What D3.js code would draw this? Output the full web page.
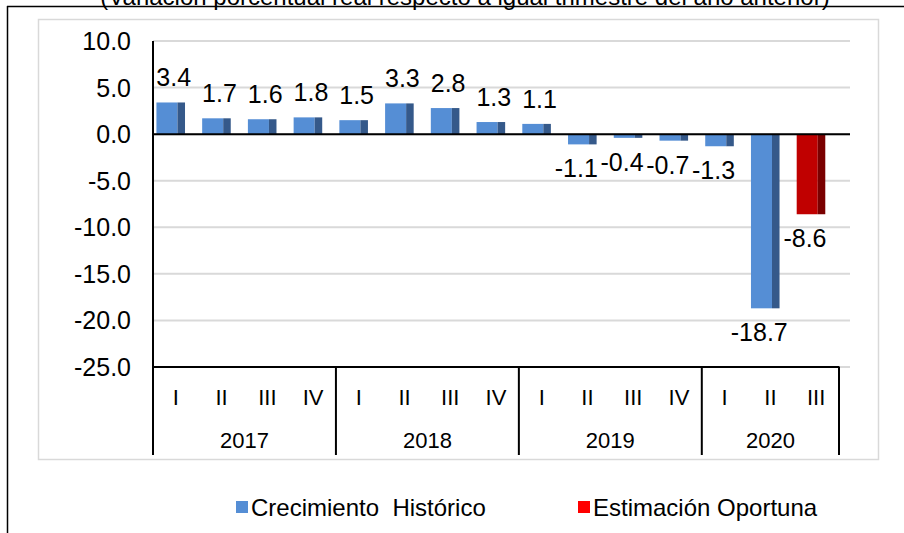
<!DOCTYPE html>
<html>
<head>
<meta charset="utf-8">
<script src="https://cdn.jsdelivr.net/npm/d3@7"></script>
<style>
  html, body { margin: 0; padding: 0; background: #fff; }
  svg { display: block; font-family: "Liberation Sans", Arial, sans-serif; }
</style>
</head>
<body>
<svg id="chart" width="904" height="533"></svg>
<script>
// ---- data ----
const title = "(Variación porcentual real respecto a igual trimestre del año anterior)";
const quarters = ["I","II","III","IV","I","II","III","IV","I","II","III","IV","I","II","III"];
const years = ["2017","2018","2019","2020"];
const quartersPerYear = [4, 4, 4, 3];
const values = [3.4, 1.7, 1.6, 1.8, 1.5, 3.3, 2.8, 1.3, 1.1, -1.1, -0.4, -0.7, -1.3, -18.7, -8.6];
const series = ["hist","hist","hist","hist","hist","hist","hist","hist","hist","hist","hist","hist","hist","hist","est"];
const seriesNames = ["Crecimiento  Histórico", "Estimación Oportuna"];
const yTicks = [10, 5, 0, -5, -10, -15, -20, -25];

// ---- styles ----
const frontColor = { hist: "#558ED5", est: "#C00000" };
const sideColor  = { hist: "#35598A", est: "#7A0000" };
const legendColor = ["#558ED5", "#FF0000"];

const svg = d3.select("#chart");

// title (clipped at top, as in reference)
svg.append("text").attr("x", 465).attr("y", 5).attr("text-anchor", "middle")
  .attr("font-size", 24).attr("fill", "#000").text(title);

// outer frame (partial, as in reference)
svg.append("line").attr("x1", 7).attr("x2", 904).attr("y1", 6.5).attr("y2", 6.5)
  .attr("stroke", "#000").attr("stroke-width", 1.5);
svg.append("line").attr("x1", 7.5).attr("x2", 7.5).attr("y1", 6).attr("y2", 533)
  .attr("stroke", "#000").attr("stroke-width", 1.5);

// inner chart area border
svg.append("rect").attr("x", 38.5).attr("y", 19.5).attr("width", 840).attr("height", 440)
  .attr("fill", "none").attr("stroke", "#d9d9d9").attr("stroke-width", 1.5);

const idx = d3.range(values.length);
const x = d3.scaleBand().domain(idx).range([153, 839]).padding(0);
const y = d3.scaleLinear().domain([-25, 10]).range([367, 41]);
const gridRight = 850;
const axisBottom = 455;

// gridlines
svg.append("g").selectAll("line").data(yTicks).join("line")
  .attr("x1", 153).attr("x2", gridRight)
  .attr("y1", d => y(d)).attr("y2", d => y(d))
  .attr("stroke", "#d9d9d9").attr("stroke-width", 2);

// y axis labels
svg.append("g").selectAll("text").data(yTicks).join("text")
  .attr("x", 131).attr("y", d => y(d)).attr("dy", "0.36em")
  .attr("text-anchor", "end").attr("font-size", 25).attr("fill", "#000")
  .text(d => d3.format(".1f")(d).replace("−", "-"));

// bars: front face + darker side face
const bw = x.bandwidth();
const frontW = bw * 0.46;
const sideW = bw * 0.165;
const off = bw * 0.075;
const bars = svg.append("g").selectAll("g").data(idx).join("g");
bars.append("rect")
  .attr("x", i => x(i) + off)
  .attr("y", i => y(Math.max(0, values[i])))
  .attr("width", frontW)
  .attr("height", i => Math.abs(y(values[i]) - y(0)))
  .attr("fill", i => frontColor[series[i]]);
bars.append("rect")
  .attr("x", i => x(i) + off + frontW)
  .attr("y", i => y(Math.max(0, values[i])))
  .attr("width", sideW)
  .attr("height", i => Math.abs(y(values[i]) - y(0)))
  .attr("fill", i => sideColor[series[i]]);

// zero line
svg.append("line").attr("x1", 153).attr("x2", gridRight).attr("y1", y(0)).attr("y2", y(0))
  .attr("stroke", "#000").attr("stroke-width", 2);

// data labels
svg.append("g").selectAll("text").data(idx).join("text")
  .attr("x", i => x(i) + off + (frontW + sideW) / 2 + (values[i] >= 0 ? 3 : -6))
  .attr("y", i => values[i] >= 0 ? y(values[i]) - 16 : y(values[i]) + 33)
  .attr("text-anchor", "middle").attr("font-size", 25).attr("fill", "#000")
  .text(i => d3.format(".1f")(values[i]).replace("−", "-"));

// x axis line at bottom of value range
svg.append("line").attr("x1", 153).attr("x2", 839.5).attr("y1", y(-25)).attr("y2", y(-25))
  .attr("stroke", "#000").attr("stroke-width", 2);
// y axis line
svg.append("line").attr("x1", 153).attr("x2", 153).attr("y1", y(10)).attr("y2", axisBottom)
  .attr("stroke", "#000").attr("stroke-width", 2);

// year separators
const cum = d3.cumsum(quartersPerYear);
svg.append("g").selectAll("line").data(cum).join("line")
  .attr("x1", d => x.range()[0] + d * bw).attr("x2", d => x.range()[0] + d * bw)
  .attr("y1", y(-25)).attr("y2", axisBottom)
  .attr("stroke", "#000").attr("stroke-width", 2);

// quarter labels
svg.append("g").selectAll("text").data(idx).join("text")
  .attr("x", i => x(i) + bw / 2).attr("y", 397).attr("dy", "0.36em")
  .attr("text-anchor", "middle").attr("font-size", 22).attr("fill", "#000")
  .text(i => quarters[i]);

// year labels
const starts = [0, ...cum.slice(0, -1)];
svg.append("g").selectAll("text").data(years).join("text")
  .attr("x", (d, j) => x.range()[0] + (starts[j] + quartersPerYear[j] / 2) * bw)
  .attr("y", 440).attr("dy", "0.36em")
  .attr("text-anchor", "middle").attr("font-size", 22).attr("fill", "#000")
  .text(d => d);

// legend
const legendX = [236, 578];
const lg = svg.append("g").selectAll("g").data(seriesNames).join("g");
lg.append("rect")
  .attr("x", (d, j) => legendX[j]).attr("y", 501)
  .attr("width", 12).attr("height", 12)
  .attr("fill", (d, j) => legendColor[j]);
lg.append("text")
  .attr("x", (d, j) => legendX[j] + 15).attr("y", 516)
  .attr("font-size", 24).attr("fill", "#000").attr("xml:space", "preserve")
  .style("white-space", "pre")
  .text(d => d);
</script>
</body>
</html>
